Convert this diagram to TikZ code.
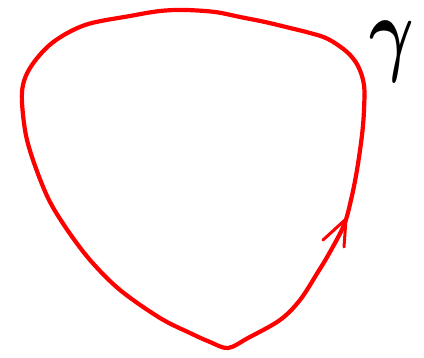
\documentclass[tikz,border=0pt]{standalone}
\usepackage{amsmath}
\begin{document}
\begin{tikzpicture}[x=1pt,y=-1pt,
  curve/.style={draw=red,line width=4.2pt,line join=round,line cap=round},
  barb/.style={draw=red,line width=3pt,line cap=round,line join=miter}]
\useasboundingbox (0,0) rectangle (424,358);
\draw[curve] plot[smooth cycle,tension=0.55] coordinates{
 (185,10) (215,12) (240,17) (265,22) (290,28) (310,33) (328,39) (347,52) (358,66) (364,85) (364,110) (362,135) (357,170) (351,200) (344,225) (330,252) (318,272) (300,300) (280,320) (248,338) (228,348) (210,342) (190,333) (160,318) (120,290) (90,260) (66,228) (48,198) (33,160) (25,130) (22,92) (30,68) (52,43) (85,25) (130,16) (160,11)};
\coordinate (tip) at (346,219);
\coordinate (b1) at (323,240);
\coordinate (b2) at (344,247);
\draw[barb] (b1) -- (tip) -- (b2);
\node[xscale=0.72,scale=9.5,inner sep=0pt] (gam) at (392,52) {$\boldsymbol{\gamma}$};
\end{tikzpicture}
\end{document}
